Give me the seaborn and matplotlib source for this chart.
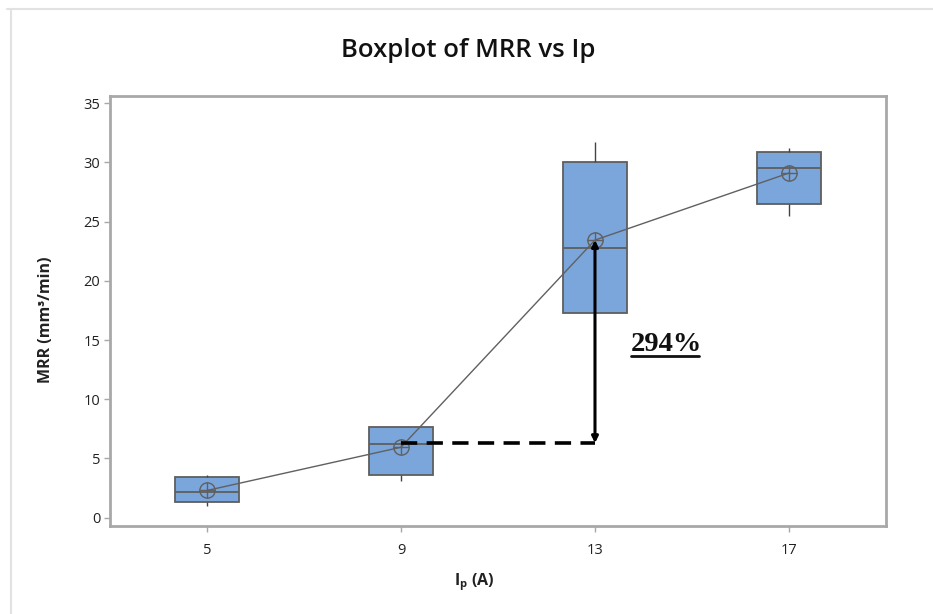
import numpy as np
import pandas as pd
import matplotlib
matplotlib.use("Agg")
import matplotlib.pyplot as plt
from matplotlib.lines import Line2D
import seaborn as sns

# Peak current levels (A)
ip_levels = ["5", "9", "13", "17"]

# Five-number summaries of MRR (mm^3/min): min, Q1, median, Q3, max
mrr_ip5 = [1.0, 1.3, 2.2, 3.4, 3.6]
mrr_ip9 = [3.1, 3.6, 6.2, 7.7, 7.7]
mrr_ip13 = [17.3, 17.3, 22.8, 30.0, 31.7]
mrr_ip17 = [25.5, 26.5, 29.5, 30.9, 31.2]

# Group means (connected by the mean line)
mrr_means = [2.3, 5.95, 23.44, 29.1]

# Level from which the increase is measured
ref_level = 6.3

sns.set_theme(style="white")
plt.rcParams["font.family"] = ["Open Sans", "DejaVu Sans"]

box_df = pd.DataFrame({
    "Ip": np.repeat(ip_levels, 5),
    "MRR": mrr_ip5 + mrr_ip9 + mrr_ip13 + mrr_ip17,
})
mean_df = pd.DataFrame({"Ip": ip_levels, "MRR": mrr_means})

fig = plt.figure(figsize=(9.33, 6.14), dpi=100)
fig.patch.set_facecolor("white")
ax = fig.add_axes([0.1179, 0.1433, 0.8317, 0.7003])

edge = "#5e5e5e"
sns.boxplot(data=box_df, x="Ip", y="MRR", order=ip_levels, whis=(0, 100),
            width=0.33, color="#7aa6dc", saturation=1, linecolor=edge,
            linewidth=1.3, fliersize=0, showcaps=False,
            whiskerprops=dict(linewidth=1.0, color="#444444"), ax=ax)

# Mean line with circled-plus symbols
sns.pointplot(data=mean_df, x="Ip", y="MRR", order=ip_levels, errorbar=None,
              color="#606060", marker="o", markersize=11, markerfacecolor="none",
              markeredgewidth=1.0, linewidth=1.0, ax=ax)
sns.pointplot(data=mean_df, x="Ip", y="MRR", order=ip_levels, errorbar=None,
              color="#606060", marker="+", markersize=11, markeredgewidth=1.0,
              linestyle="none", ax=ax)

ax.set_xlim(-0.5, 3.5)
ax.set_ylim(-0.7, 35.6)
ax.set_yticks(np.arange(0, 36, 5))

# Increase from Ip = 9 A to Ip = 13 A
i9, i13 = ip_levels.index("9"), ip_levels.index("13")
ax.plot([i9, i13], [ref_level, ref_level], color="black", linewidth=2.6,
        linestyle=(0, (4.5, 2.6)), zorder=5)
ax.annotate("", xy=(i13, mrr_means[i13]), xytext=(i13, ref_level),
            arrowprops=dict(arrowstyle="<|-|>", color="black", lw=2.2,
                            mutation_scale=9, shrinkA=0, shrinkB=0), zorder=6)
pct = (mrr_means[i13] - mrr_means[i9]) / mrr_means[i9] * 100
label = ax.text(i13 + 0.185, 14.6, f"{pct:.0f}%", family=["Liberation Serif"],
                fontsize=20.5, fontweight="bold", color="#111111",
                ha="left", va="center", zorder=6)

for side in ["left", "right", "top", "bottom"]:
    ax.spines[side].set_visible(True)
    ax.spines[side].set_color("#a8a8a8")
    ax.spines[side].set_linewidth(2.0)
ax.tick_params(axis="both", which="major", direction="out", length=4,
               width=1, color="#a8a8a8", labelsize=10.5, labelcolor="#222222",
               bottom=True, left=True)
ax.tick_params(axis="x", pad=8)
ax.tick_params(axis="y", pad=3)

ax.set_xlabel(r"I$_\mathregular{p}$ (A)", fontsize=11.5, fontweight="bold",
              color="#222222")
ax.xaxis.set_label_coords(0.47, -0.106)
ax.set_ylabel("MRR (mm³/min)", fontsize=11.5, fontweight="bold",
              color="#222222")
ax.yaxis.set_label_coords(-0.072, 0.48)
fig.suptitle("Boxplot of MRR vs Ip", x=0.502, y=0.938, fontsize=18.5,
             fontweight="semibold", color="#111111")

# Underline under the percentage label
fig.canvas.draw()
bb = label.get_window_extent(renderer=fig.canvas.get_renderer())
inv = fig.transFigure.inverted()
(x0, y0), (x1, _) = inv.transform([(bb.x0, bb.y0 + 1), (bb.x1 - 3, bb.y0)])
fig.add_artist(Line2D([x0, x1], [y0, y0], color="#111111", linewidth=2.0))

# Thin frame along the top and left edges
fig.add_artist(Line2D([0.007, 1.0], [0.985, 0.985], color="#e2e2e2", linewidth=1.5))
fig.add_artist(Line2D([0.012, 0.012], [0.0, 0.985], color="#e2e2e2", linewidth=1.5))

fig.savefig("out.png", dpi=100, facecolor="white")
